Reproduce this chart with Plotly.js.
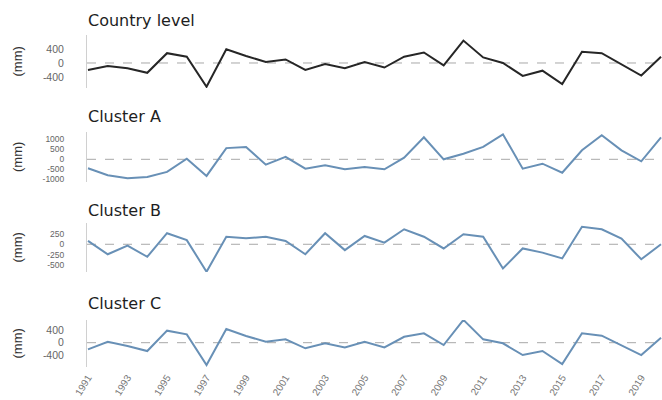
<!DOCTYPE html>
<html>
<head>
<meta charset="utf-8">
<script src="https://cdn.plot.ly/plotly-3.0.1.min.js"></script>
<style>html,body{margin:0;padding:0;background:#fff;}#chart{width:662px;height:400px;}</style>
</head>
<body>
<div id="chart"></div>
<script>
const years = [1991,1992,1993,1994,1995,1996,1997,1998,1999,2000,2001,2002,2003,2004,2005,2006,2007,2008,2009,2010,2011,2012,2013,2014,2015,2016,2017,2018,2019,2020];
const countryLevel = [-200,-86,-150,-280,280,180,-680,390,200,30,100,-200,-30,-150,30,-130,180,300,-70,640,160,0,-370,-220,-600,320,280,-30,-360,180];
const clusterA = [-450,-800,-950,-880,-630,30,-830,560,620,-270,120,-470,-300,-500,-380,-500,80,1100,0,280,620,1250,-470,-220,-670,450,1200,450,-100,1100];
const clusterB = [80,-240,-30,-300,265,100,-660,180,145,180,80,-240,265,-140,200,40,360,180,-100,240,180,-580,-100,-200,-340,420,360,135,-360,0];
const clusterC = [-213,30,-107,-267,385,267,-715,437,213,30,107,-180,-20,-150,30,-150,190,300,-75,730,107,-20,-395,-267,-685,300,225,-75,-395,160];
const panelTitles = ["Country level","Cluster A","Cluster B","Cluster C"];
const xTickVals = [1991,1993,1995,1997,1999,2001,2003,2005,2007,2009,2011,2013,2015,2017,2019];
const yTicks = [[-400,0,400],[-1000,-500,0,500,1000],[-500,-250,0,250],[-400,0,400]];
const yRanges = [[-715,800],[-1135,1365],[-665,510],[-778,726]];

const series = [countryLevel, clusterA, clusterB, clusterC];
const colors = ["#262626","#6890b6","#6890b6","#6890b6"];
const plotH = 367;
const pxDomains = [[35,88],[132,182],[223,272],[320,367]];
const dom = pxDomains.map(d => [1 - d[1]/plotH, 1 - d[0]/plotH]);
const tickSizes = [10.5, 8.5, 8.5, 10.5];

const traces = series.map((s,i) => ({
  x: years, y: s, type: 'scatter', mode: 'lines',
  line: {color: colors[i], width: 2},
  xaxis: 'x', yaxis: i === 0 ? 'y' : 'y' + (i+1),
  hoverinfo: 'skip', showlegend: false
}));

const font = "Liberation Sans, Arial, sans-serif";
const layout = {
  width: 662, height: 400,
  margin: {l: 87, r: 0, t: 0, b: 33},
  paper_bgcolor: '#fff', plot_bgcolor: '#fff',
  showlegend: false,
  xaxis: {
    range: [1990.95, 2020.05], anchor: 'y4', domain: [0,1],
    tickvals: xTickVals, ticktext: xTickVals.map(String),
    tickangle: -58, showline: false, showgrid: false, zeroline: false,
    ticks: '', ticklabelstandoff: 2,
    tickfont: {family: font, size: 10, color: '#777'}
  },
  shapes: [],
  annotations: []
};
for (let i = 0; i < 4; i++) {
  const key = i === 0 ? 'yaxis' : 'yaxis' + (i+1);
  layout[key] = {
    domain: dom[i], range: yRanges[i], anchor: 'x',
    tickvals: yTicks[i], ticktext: yTicks[i].map(String),
    showline: true, linecolor: '#d0d0d0', linewidth: 1,
    showgrid: false, zeroline: false, ticks: '',
    ticklabelstandoff: 20,
    tickfont: {family: font, size: tickSizes[i], color: '#666'}
  };
  const yref = i === 0 ? 'y' : 'y' + (i+1);
  layout.shapes.push({type: 'line', xref: 'paper', yref: yref, x0: 0, x1: 1, y0: 0, y1: 0,
    line: {color: '#a8a8a8', width: 1, dash: 'dash'}, layer: 'below'});
  const titleY = [20, 117, 210, 303][i];
  layout.annotations.push({text: panelTitles[i], xref: 'paper', yref: 'paper',
    x: -0.002, y: 1 - titleY/plotH, xanchor: 'left', yanchor: 'middle', showarrow: false,
    font: {family: "DejaVu Sans, sans-serif", size: 16, color: '#1e1e1e'}});
  const midPx = (pxDomains[i][0] + pxDomains[i][1]) / 2;
  layout.annotations.push({text: '(mm)', xref: 'paper', yref: 'paper',
    x: (17 - 87)/575, y: 1 - midPx/plotH, xanchor: 'center', yanchor: 'middle',
    textangle: -90, showarrow: false,
    font: {family: font, size: 13, color: '#333'}});
}
Plotly.newPlot('chart', traces, layout, {displayModeBar: false, staticPlot: true});
</script>
</body>
</html>
